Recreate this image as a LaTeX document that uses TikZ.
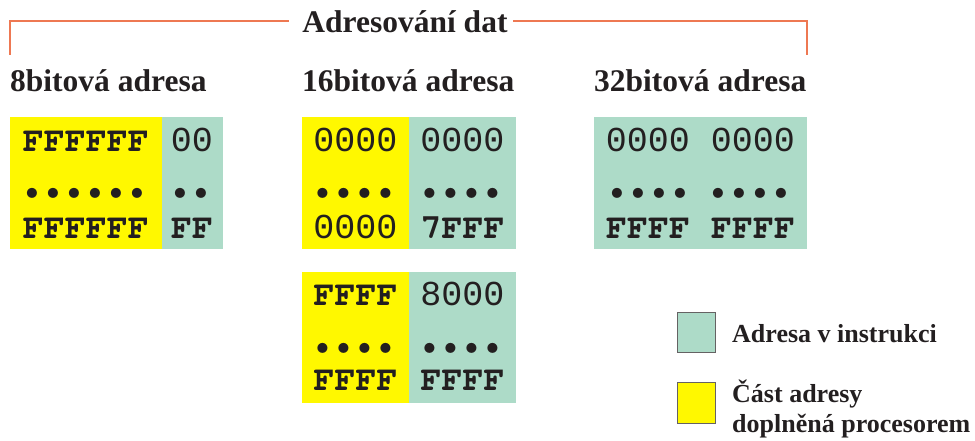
\documentclass[tikz,border=0pt]{standalone}
\usepackage{fontspec}
\setmainfont{Liberation Serif}
\newfontfamily\codefont{Liberation Mono}
\newfontfamily\slabfont{TeX Gyre Cursor}
\newfontfamily\dotfont[LetterSpace=15]{TeX Gyre Cursor}
\definecolor{ylw}{HTML}{FFF800}
\definecolor{tea}{HTML}{ADDBC8}
\definecolor{ora}{HTML}{EE7852}
\definecolor{ink}{HTML}{231F20}
\tikzset{
  hd/.style={anchor=base west,inner sep=0pt,font=\fontsize{31.5}{36}\selectfont\bfseries,text=ink},
  cd/.style={anchor=base,inner sep=0pt,font=\fontsize{35}{40}\selectfont\codefont,text=ink},
  cb/.style={cd,font=\fontsize{35}{40}\selectfont\slabfont\bfseries},
  dt/.style={cd,font=\fontsize{28}{32}\selectfont\dotfont\bfseries,yshift=-4pt,xshift=-1.5pt},
  lg/.style={anchor=base west,inner sep=0pt,font=\fontsize{26}{30}\selectfont\bfseries,text=ink,align=left},
  frame/.style={draw=ora,line width=1.3pt},
  sq/.style={draw=ink!70,line width=0.8pt}
}
\begin{document}
\begin{tikzpicture}[x=1pt,y=-1pt]
\useasboundingbox (0,0) rectangle (975,441);
% title and bracket
\node[hd,anchor=base] (title) at (405,33) {Adresování dat};
\coordinate (l1) at (10,55);
\coordinate (l2) at (10,21);
\coordinate (l3) at (289,21);
\coordinate (r1) at (513,21);
\coordinate (r2) at (807,21);
\coordinate (r3) at (807,55);
\draw[frame] (l1) -- (l2) -- (l3);
\draw[frame] (r1) -- (r2) -- (r3);
% headings
\node[hd] (h8) at (10,92) {8bitová adresa};
\node[hd] (h16) at (302,92) {16bitová adresa};
\node[hd] (h32) at (594,92) {32bitová adresa};
% boxes
\fill[ylw] (10,117) rectangle (162,249);
\fill[tea] (162,117) rectangle (223,249);
\fill[ylw] (302,117) rectangle (409,249);
\fill[tea] (409,117) rectangle (516,249);
\fill[tea] (594,117) rectangle (807,249);
\fill[ylw] (302,272) rectangle (409,403);
\fill[tea] (409,272) rectangle (516,403);
% box 1
\node[cb] (a1) at (86,152) {FFFFFF};
\node[dt] (a2) at (86,196) {••••••};
\node[cb] (a3) at (86,238) {FFFFFF};
\node[cd] (b1) at (192,152) {00};
\node[dt] (b2) at (192,196) {••};
\node[cb] (b3) at (192,238) {FF};
% box 2
\node[cd] (c1) at (355.5,152) {0000};
\node[dt] (c2) at (355.5,196) {••••};
\node[cd] (c3) at (355.5,238) {0000};
\node[cd] (d1) at (462.5,152) {0000};
\node[dt] (d2) at (462.5,196) {••••};
\node[cb] (d3) at (462.5,238) {7FFF};
% box 3
\node[cd] (e1) at (700.5,152) {0000 0000};
\node[dt] (e2) at (700.5,196) {•••• ••••};
\node[cb] (e3) at (700.5,238) {FFFF FFFF};
% box 4
\node[cb] (f1) at (355.5,305) {FFFF};
\node[dt] (f2) at (355.5,350) {••••};
\node[cb] (f3) at (355.5,390) {FFFF};
\node[cd] (g1) at (462.5,305) {8000};
\node[dt] (g2) at (462.5,350) {••••};
\node[cb] (g3) at (462.5,390) {FFFF};
% legend
\filldraw[sq,fill=tea] (677,312) rectangle (715,352);
\filldraw[sq,fill=ylw] (677,382) rectangle (715,423);
\node[lg] (lg1) at (732,342) {Adresa v instrukci};
\node[lg] (lg2) at (732,402) {Část adresy};
\node[lg] (lg3) at (732,432) {doplněná procesorem};
\end{tikzpicture}
\end{document}
